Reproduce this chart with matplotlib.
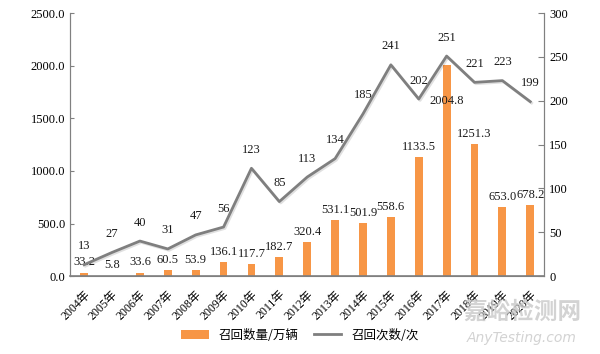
import matplotlib.pyplot as plt
import matplotlib.patheffects as pe
import numpy as np

plt.rcParams['font.family'] = ['Liberation Serif', 'Noto Sans CJK SC']

years = ['2004年', '2005年', '2006年', '2007年', '2008年', '2009年', '2010年', '2011年', '2012年',
         '2013年', '2014年', '2015年', '2016年', '2017年', '2018年', '2019年', '2020年']
recall_qty = [33.2, 5.8, 33.6, 60.5, 53.9, 136.1, 117.7, 182.7, 320.4,
              531.1, 501.9, 558.6, 1133.5, 2004.8, 1251.3, 653.0, 678.2]
recall_times = [13, 27, 40, 31, 47, 56, 123, 85, 113, 134, 185, 241, 202, 251, 221, 223, 199]

bar_color = '#F79646'
line_color = '#7F7F7F'
axis_color = '#808080'

fig = plt.figure(figsize=(6, 3.54), dpi=100)
ax = fig.add_axes([0.117, 0.22, 0.79, 0.743])
ax2 = ax.twinx()

x = np.arange(len(years))
bars = ax.bar(x, recall_qty, width=0.28, color=bar_color, zorder=2, label='召回数量/万辆')
line, = ax2.plot(x, recall_times, color=line_color, lw=2, zorder=3,
                 path_effects=[pe.SimpleLineShadow(offset=(1, -1), alpha=0.12), pe.Normal()])

ax.set_xlim(-0.5, len(years) - 0.5)
ax.set_ylim(0, 2500)
ax2.set_ylim(0, 300)
ax.set_yticks(np.arange(0, 2501, 500))
ax.set_yticklabels(['%.1f' % v for v in np.arange(0, 2501, 500)], fontsize=9)
ax2.set_yticks(np.arange(0, 301, 50))
ax2.set_yticklabels([str(v) for v in range(0, 301, 50)], fontsize=9)

ax.set_xticks(x)
ax.set_xticklabels(years, rotation=45, ha='right', rotation_mode='anchor', fontsize=8.5)
ax.tick_params(axis='x', length=0, pad=9)
ax.tick_params(axis='y', direction='in', length=3, color=axis_color)
ax2.tick_params(axis='y', direction='in', length=4, color=axis_color)

for a in (ax, ax2):
    a.spines['top'].set_visible(False)
    for s in ('left', 'right', 'bottom'):
        a.spines[s].set_color(axis_color)
ax.spines['bottom'].set_linewidth(1.2)

# value labels on bars
for i, v in enumerate(recall_qty):
    dy = 3 if years[i] != '2017年' else -30
    ax.annotate('%.1f' % v, (x[i], v), xytext=(0, dy), textcoords='offset points',
                ha='center', va='bottom', fontsize=9, color='#1a1a1a')

# value labels on line
for i, v in enumerate(recall_times):
    ax2.annotate(str(v), (x[i], v), xytext=(0, 9), textcoords='offset points',
                 ha='center', va='bottom', fontsize=9, color='#1a1a1a')

legend_line = plt.Line2D([], [], color=line_color, lw=2, label='召回次数/次')
fig.legend(handles=[bars, legend_line], loc='center', bbox_to_anchor=(0.5, 0.053), ncol=2,
           frameon=False, handlelength=2.2, columnspacing=1.2,
           prop={'family': ['Noto Sans CJK SC'], 'size': 9})

# watermark
fig.text(0.87, 0.12, '嘉峪检测网', fontsize=17, color='#c8c8c8', alpha=0.8,
         ha='center', va='center', family=['Noto Sans CJK SC'], fontweight='bold')
fig.text(0.87, 0.045, 'AnyTesting.com', fontsize=10, color='#c8c8c8', alpha=0.8,
         ha='center', va='center', family=['DejaVu Sans'], style='italic')

fig.savefig('out.png', dpi=100)
